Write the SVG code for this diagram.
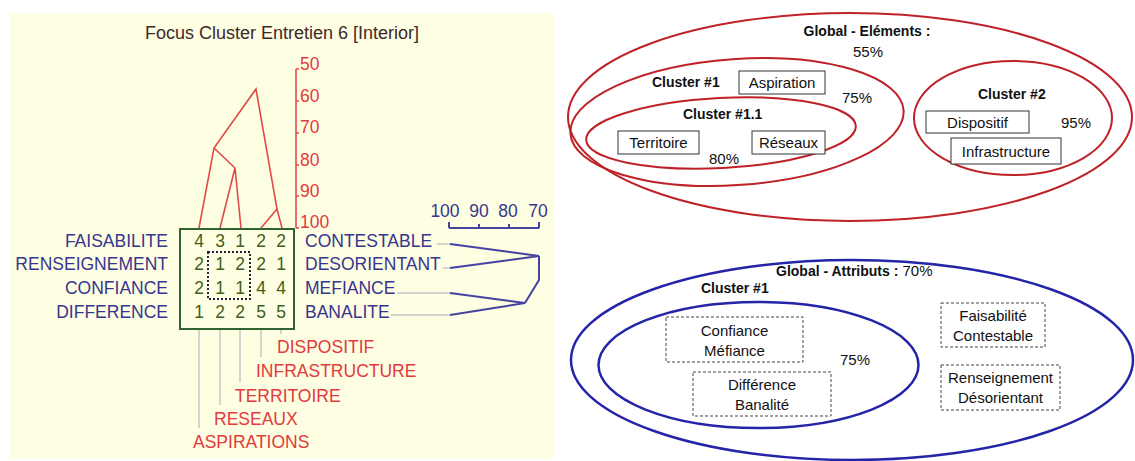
<svg xmlns="http://www.w3.org/2000/svg" width="1135" height="461" viewBox="0 0 1135 461">
<defs>
<style>
.t{font-family:"Liberation Sans",Arial,sans-serif}
.ttl{font-size:18px;fill:#40282a}
.lb{font-size:17.5px;fill:#36368f}
.lr{font-size:17.5px;fill:#e23a3e}
.dg{font-size:17.5px;fill:#3f5f1c;text-anchor:middle}
.sc{font-size:17.5px;fill:#e23a3e}
.sb{font-size:17.5px;fill:#36368f;text-anchor:middle}
.red{fill:none;stroke:#e04a4a;stroke-width:1.6}
.blu{fill:none;stroke:#4444a0;stroke-width:2}
.gry{fill:none;stroke:#c8c8c8;stroke-width:1.5}
.b{font-size:14px;font-weight:bold;fill:#111}
.r{font-size:15px;fill:#111}
.m{text-anchor:middle}
.ere{fill:none;stroke:#be2228;stroke-width:2}
.ebl{fill:none;stroke:#2424a8;stroke-width:2.5}
.box{fill:#fff;stroke:#333;stroke-width:1}
.dbox{fill:#fff;stroke:#444;stroke-width:1;stroke-dasharray:3 2}
</style>
</defs>
<rect x="9" y="13" width="545" height="446" fill="#fefee3"/>
<text class="t ttl m" x="282" y="39">Focus Cluster Entretien 6 [Interior]</text>

<g id="scale-red">
<path class="red" d="M296 69V228M296 69h3M296 101h3M296 133h3M296 165h3M296 196h3M296 228h3"/>
<text class="t sc" x="300" y="70">50</text>
<text class="t sc" x="300" y="102">60</text>
<text class="t sc" x="300" y="133">70</text>
<text class="t sc" x="300" y="166">80</text>
<text class="t sc" x="300" y="197">90</text>
<text class="t sc" x="300" y="228">100</text>
</g>

<g id="dendrogram-elements">
<path class="red" d="M199 228L214 148L256 89L277 209L261 228M282 228L277 209M220 228L235 168L241 228M235 168L214 148"/>
</g>

<g id="grid">
<rect x="180" y="229" width="114" height="100" fill="none" stroke="#2f6330" stroke-width="2"/>
<rect x="208" y="252" width="42" height="47" fill="none" stroke="#23233f" stroke-width="2" stroke-dasharray="2 2"/>
<text class="t dg" y="247"><tspan x="199">4</tspan><tspan x="220">3</tspan><tspan x="240">1</tspan><tspan x="261">2</tspan><tspan x="281">2</tspan></text>
<text class="t dg" y="270"><tspan x="199">2</tspan><tspan x="220">1</tspan><tspan x="240">2</tspan><tspan x="261">2</tspan><tspan x="281">1</tspan></text>
<text class="t dg" y="294"><tspan x="199">2</tspan><tspan x="220">1</tspan><tspan x="240">1</tspan><tspan x="261">4</tspan><tspan x="281">4</tspan></text>
<text class="t dg" y="318"><tspan x="199">1</tspan><tspan x="220">2</tspan><tspan x="240">2</tspan><tspan x="261">5</tspan><tspan x="281">5</tspan></text>
</g>

<g id="left-labels">
<text class="t lb" x="168" y="247" text-anchor="end">FAISABILITE</text>
<text class="t lb" x="168" y="270" text-anchor="end">RENSEIGNEMENT</text>
<text class="t lb" x="168" y="294" text-anchor="end">CONFIANCE</text>
<text class="t lb" x="168" y="318" text-anchor="end">DIFFERENCE</text>
</g>

<g id="right-labels">
<text class="t lb" x="305" y="247">CONTESTABLE</text>
<text class="t lb" x="305" y="270">DESORIENTANT</text>
<text class="t lb" x="305" y="294">MEFIANCE</text>
<text class="t lb" x="305" y="318">BANALITE</text>
</g>

<g id="scale-blue">
<path class="blu" d="M449 228H539M449 228v-6M479 228v-4M509 228v-4M539 228v-6" stroke-width="1.6"/>
<text class="t sb" x="445" y="217">100</text>
<text class="t sb" x="479" y="217">90</text>
<text class="t sb" x="508" y="217">80</text>
<text class="t sb" x="538" y="217">70</text>
</g>

<g id="connectors">
<path class="gry" d="M437 244H450M443 268H450M397 293H450M391 315H450"/>
<path class="blu" d="M450 244L539 256L450 268M539 256V280L525 303M450 293L525 303L450 315"/>
<path class="gry" d="M199 330V428M220 330V405M240 330V382M261 330V357M281 330V334"/>
</g>

<g id="bottom-labels">
<text class="t lr" x="277" y="353">DISPOSITIF</text>
<text class="t lr" x="256" y="377">INFRASTRUCTURE</text>
<text class="t lr" x="235" y="402">TERRITOIRE</text>
<text class="t lr" x="214" y="425">RESEAUX</text>
<text class="t lr" x="193" y="448">ASPIRATIONS</text>
</g>

<g id="global-elements">
<ellipse class="ere" cx="850" cy="117" rx="282" ry="104"/>
<text class="t b m" x="867" y="36">Global - Eléments :</text>
<text class="t r m" x="868" y="57">55%</text>
</g>
<g id="cluster-1">
<ellipse class="ere" cx="737" cy="122" rx="167" ry="63" transform="rotate(-4 737 122)"/>
<text class="t b" x="652" y="87">Cluster #1</text>
<text class="t r" x="842" y="103">75%</text>
</g>
<g id="aspiration">
<rect class="box" x="739" y="71" width="86" height="23"/>
<text class="t r m" x="782" y="88">Aspiration</text>
</g>
<g id="cluster-1-1">
<ellipse class="ere" cx="721" cy="133" rx="135" ry="35" transform="rotate(-3 721 133)"/>
<text class="t b" x="683" y="119">Cluster #1.1</text>
<text class="t r" x="709" y="164">80%</text>
</g>
<g id="territoire">
<rect class="box" x="618" y="131" width="81" height="23"/>
<text class="t r m" x="658.5" y="148">Territoire</text>
</g>
<g id="reseaux">
<rect class="box" x="752" y="131" width="73" height="23"/>
<text class="t r m" x="788.5" y="148">Réseaux</text>
</g>
<g id="cluster-2">
<ellipse class="ere" cx="1013" cy="118" rx="99" ry="57"/>
<text class="t b" x="978" y="99">Cluster #2</text>
<text class="t r" x="1061" y="128">95%</text>
</g>
<g id="dispositif">
<rect class="box" x="926" y="111" width="103" height="22"/>
<text class="t r m" x="977.5" y="128">Dispositif</text>
</g>
<g id="infrastructure">
<rect class="box" x="951" y="138" width="110" height="26"/>
<text class="t r m" x="1006" y="157">Infrastructure</text>
</g>

<g id="global-attributs">
<ellipse class="ebl" cx="852" cy="360" rx="281" ry="100"/>
<text class="t" x="776" y="276"><tspan class="b">Global - Attributs :</tspan><tspan class="r"> 70%</tspan></text>
</g>
<g id="cluster-1-attr">
<ellipse class="ebl" cx="758.5" cy="365" rx="160" ry="63"/>
<text class="t b" x="701" y="293">Cluster #1</text>
<text class="t r" x="840" y="365">75%</text>
</g>
<g id="confiance-mefiance">
<rect class="dbox" x="666" y="317" width="137" height="45"/>
<text class="t r m" x="734.5" y="336">Confiance</text>
<text class="t r m" x="734.5" y="356">Méfiance</text>
</g>
<g id="difference-banalite">
<rect class="dbox" x="693" y="372" width="138" height="44"/>
<text class="t r m" x="762" y="390">Différence</text>
<text class="t r m" x="762" y="410">Banalité</text>
</g>
<g id="faisabilite-contestable">
<rect class="dbox" x="941" y="303" width="104" height="44"/>
<text class="t r m" x="993" y="321">Faisabilité</text>
<text class="t r m" x="993" y="341">Contestable</text>
</g>
<g id="renseignement-desorientant">
<rect class="dbox" x="941" y="365" width="119" height="45"/>
<text class="t r m" x="1000.5" y="383">Renseignement</text>
<text class="t r m" x="1000.5" y="403">Désorientant</text>
</g>
</svg>
